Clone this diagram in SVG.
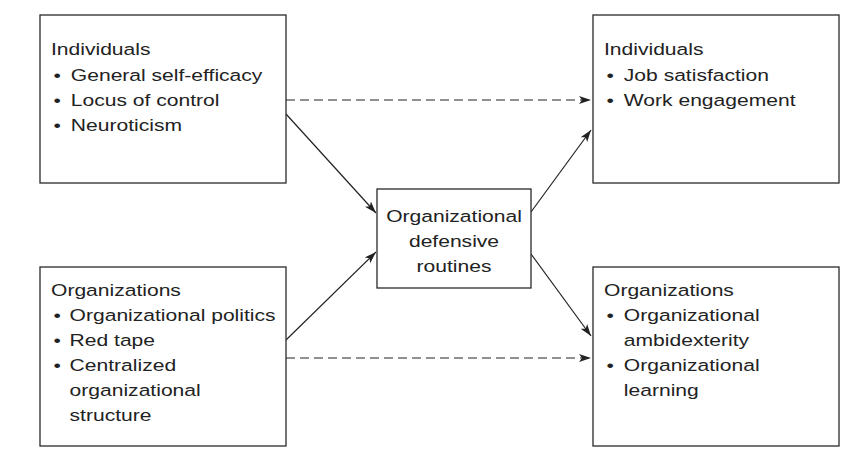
<svg xmlns="http://www.w3.org/2000/svg" width="856" height="456" viewBox="0 0 856 456">
<style>
.box{fill:#fff;stroke:#2a2a2a;stroke-width:1.3}
text{font-family:"Liberation Sans",Arial,Helvetica,sans-serif;font-size:17px;fill:#222}
.c{text-anchor:middle}
.ln{fill:none;stroke:#222;stroke-width:1.2}
.dash{stroke-dasharray:9 5}
</style>
<defs>
<marker id="ah" markerUnits="userSpaceOnUse" markerWidth="13" markerHeight="9" refX="12" refY="4" orient="auto">
<path d="M0,0 L12,4 L0,8 L3,4 z" fill="#222"/>
</marker>
</defs>
<rect width="856" height="456" fill="#fff"/>
<g id="connectors">
<path class="ln dash" d="M286,100 L591,100" marker-end="url(#ah)"/>
<path class="ln dash" d="M286,358 L591,358" marker-end="url(#ah)"/>
<path class="ln" d="M286,114 L376,213" marker-end="url(#ah)"/>
<path class="ln" d="M286,340 L376,252" marker-end="url(#ah)"/>
<path class="ln" d="M531,212 L591,130" marker-end="url(#ah)"/>
<path class="ln" d="M531,254 L591,336" marker-end="url(#ah)"/>
</g>
<g id="node-ind-in">
<rect class="box" x="40" y="15" width="246" height="168"/>
<g transform="translate(51,0) scale(1.24,1)">
<text x="0" y="55">Individuals</text>
<text x="2" y="81">•</text><text x="16" y="81">General self-efficacy</text>
<text x="2" y="106">•</text><text x="16" y="106">Locus of control</text>
<text x="2" y="131">•</text><text x="16" y="131">Neuroticism</text>
</g>
</g>
<g id="node-org-in">
<rect class="box" x="40" y="267" width="246" height="179"/>
<g transform="translate(51,0) scale(1.24,1)">
<text x="0" y="296">Organizations</text>
<text x="2" y="321">•</text><text x="15" y="321">Organizational politics</text>
<text x="2" y="346">•</text><text x="15" y="346">Red tape</text>
<text x="2" y="371">•</text><text x="15" y="371">Centralized</text>
<text x="15" y="396">organizational</text>
<text x="15" y="421">structure</text>
</g>
</g>
<g id="node-odr">
<rect class="box" x="377" y="189" width="154" height="99"/>
<g transform="translate(454,0) scale(1.24,1)">
<text class="c" x="0" y="222">Organizational</text>
<text class="c" x="0" y="247">defensive</text>
<text class="c" x="0" y="272">routines</text>
</g>
</g>
<g id="node-ind-out">
<rect class="box" x="593" y="15" width="246" height="168"/>
<g transform="translate(604,0) scale(1.24,1)">
<text x="0" y="55">Individuals</text>
<text x="2" y="81">•</text><text x="16" y="81">Job satisfaction</text>
<text x="2" y="106">•</text><text x="16" y="106">Work engagement</text>
</g>
</g>
<g id="node-org-out">
<rect class="box" x="593" y="267" width="246" height="179"/>
<g transform="translate(604,0) scale(1.24,1)">
<text x="0" y="296">Organizations</text>
<text x="2" y="321">•</text><text x="16" y="321">Organizational</text>
<text x="16" y="346">ambidexterity</text>
<text x="2" y="371">•</text><text x="16" y="371">Organizational</text>
<text x="16" y="396">learning</text>
</g>
</g>
</svg>
